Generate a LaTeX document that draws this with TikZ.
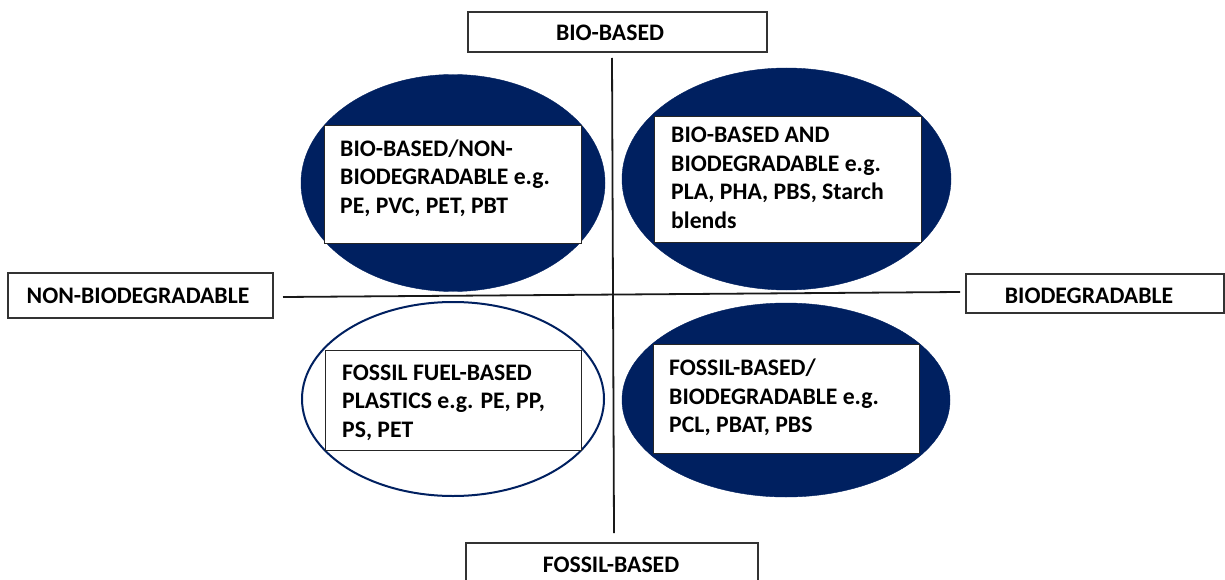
\documentclass[tikz,border=0pt]{standalone}
\usepackage{fontspec}
\setmainfont{Carlito}
\usetikzlibrary{shapes.geometric}
\definecolor{navy}{HTML}{002060}
\tikzset{
  axisbox/.style={draw=black!80, line width=1.2pt, fill=white, inner sep=0pt},
  axistext/.style={font=\bfseries\fontsize{23.7}{28}\selectfont, inner sep=0pt},
  filledoval/.style={ellipse, fill=navy, draw=navy, inner sep=0pt},
  openoval/.style={ellipse, draw=navy, line width=2pt, fill=white, inner sep=0pt},
  innerbox/.style={draw=black!85, line width=1pt, fill=white, inner sep=0pt},
  boxtext/.style={font=\bfseries\fontsize{23.7}{28.5}\selectfont, align=left, inner sep=0pt, anchor=base west},
  axisline/.style={line width=1.8pt, black!90}
}
\begin{document}
\begin{tikzpicture}[x=1pt,y=-1pt]
\useasboundingbox[fill=white] (0,0) rectangle (1225,580);
% axis boxes
\node[axisbox, minimum width=299, minimum height=40] (bb) at (617.5,32) {};
\node[axistext] (bbt) at (610,33) {BIO-BASED};
\node[axisbox, minimum width=292, minimum height=50] (fb) at (612,568) {};
\node[axistext] (fbt) at (611,565) {FOSSIL-BASED};
\node[axisbox, minimum width=265, minimum height=45] (nb) at (140.5,295.5) {};
\node[axistext] (nbt) at (138,296) {NON-BIODEGRADABLE};
\node[axisbox, minimum width=258, minimum height=39] (bd) at (1095,293.5) {};
\node[axistext] (bdt) at (1089,296) {BIODEGRADABLE};
% axis lines
\coordinate (vtop) at (612,58);
\coordinate (vbot) at (614,533);
\coordinate (hl) at (283,297);
\coordinate (hr) at (960,292);
\draw[axisline] (vtop) -- (vbot);
\draw[axisline] (hl) -- (hr);
% ellipses
\node[filledoval, minimum width=304, minimum height=217] (tl) at (453,183) {};
\node[filledoval, minimum width=329, minimum height=222] (tr) at (786.5,179) {};
\node[openoval, minimum width=302, minimum height=194] (bl) at (453,399) {};
\node[filledoval, minimum width=328, minimum height=194] (br) at (786,400) {};
% inner boxes
\node[innerbox, minimum width=257, minimum height=117] (tlb) at (452.5,184.5) {};
\node[innerbox, minimum width=267, minimum height=125] (trb) at (787.5,179.5) {};
\node[innerbox, minimum width=256, minimum height=100] (blb) at (453,400) {};
\node[innerbox, minimum width=266, minimum height=109] (brb) at (786,398.5) {};
% texts (base anchor = last line baseline)
\node[boxtext] (tlt) at (340,213.5) {BIO-BASED/NON-\\BIODEGRADABLE e.g.\\PE, PVC, PET, PBT};
\node[boxtext] (trt) at (671,228.5) {BIO-BASED AND\\BIODEGRADABLE e.g.\\PLA, PHA, PBS, Starch\\blends};
\node[boxtext] (blt) at (342,437) {FOSSIL FUEL-BASED\\PLASTICS e.g. PE, PP,\\PS, PET};
\node[boxtext] (brt) at (669,432.5) {FOSSIL-BASED/\\BIODEGRADABLE e.g.\\PCL, PBAT, PBS};
\end{tikzpicture}
\end{document}
